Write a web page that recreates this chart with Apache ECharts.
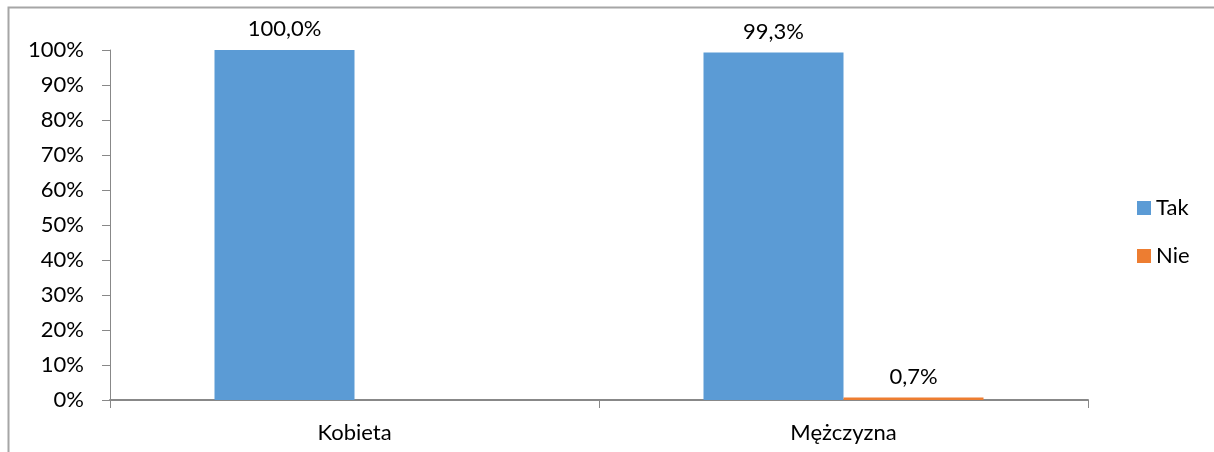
<!DOCTYPE html>
<html><head><meta charset="utf-8">
<script src="https://cdn.jsdelivr.net/npm/echarts@6/dist/echarts.min.js"></script>
<style>html,body{margin:0;padding:0;background:#fff}#c{width:1214px;height:452px}</style>
</head><body><div id="c"></div>
<script>
const categories = ['Kobieta', 'Mężczyzna'];
const takValues = [100.0, 99.3];
const nieValues = [null, 0.7];
const seriesNames = ['Tak', 'Nie'];
const yTicks = [0, 10, 20, 30, 40, 50, 60, 70, 80, 90, 100];

const FONT = 'Lato, "Open Sans", sans-serif';
const FS = 22;
const axisColor = '#888888';
const fmt = p => p.value == null ? '' : p.value.toFixed(1).replace('.', ',') + '%';

const chart = echarts.init(document.getElementById('c'), null, {renderer: 'canvas'});
chart.setOption({
  animation: false,
  textStyle: {fontFamily: FONT},
  graphic: [{
    type: 'polyline', shape: {points: [[8.5, 460], [8.5, 7.5], [1220, 7.5]]},
    style: {stroke: '#a6a6a6', lineWidth: 2, fill: null}, silent: true
  }],
  legend: {
    orient: 'vertical', left: 1132, top: 192,
    itemWidth: 14, itemHeight: 14, itemGap: 26,
    icon: 'rect',
    textStyle: {fontFamily: FONT, fontSize: FS, lineHeight: 22, color: '#000'},
    data: seriesNames
  },
  grid: {left: 110, right: 126, top: 50, bottom: 52, containLabel: false},
  xAxis: {
    type: 'category', data: categories,
    axisLine: {lineStyle: {color: axisColor, width: 2}},
    axisTick: {show: true, length: 8, lineStyle: {color: axisColor, width: 1}},
    axisLabel: {fontFamily: FONT, fontSize: FS, color: '#000', margin: 22}
  },
  yAxis: {
    type: 'value', min: 0, max: 100, interval: 10,
    axisLine: {show: true, lineStyle: {color: axisColor, width: 1}},
    axisTick: {show: true, length: 8, lineStyle: {color: axisColor}},
    splitLine: {show: false},
    axisLabel: {fontFamily: FONT, fontSize: FS, color: '#000', margin: 26,
      formatter: v => yTicks.includes(v) ? v + '%' : ''}
  },
  series: [
    {name: seriesNames[0], type: 'bar', data: takValues, barWidth: 140, barGap: '0%',
      itemStyle: {color: '#5B9BD5'},
      label: {show: true, position: 'top', distance: 10, formatter: fmt,
        fontFamily: FONT, fontSize: FS, color: '#000'}},
    {name: seriesNames[1], type: 'bar', data: nieValues, barWidth: 140, barGap: '0%',
      itemStyle: {color: '#ED7D31'},
      label: {show: true, position: 'top', distance: 10, formatter: fmt,
        fontFamily: FONT, fontSize: FS, color: '#000'}}
  ]
});
</script></body></html>
